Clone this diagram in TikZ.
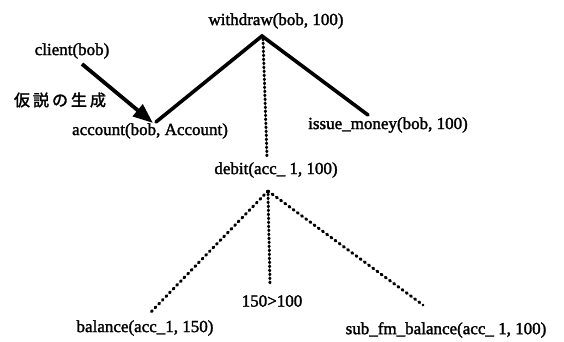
\documentclass[tikz,border=0pt]{standalone}
\usepackage{fontspec}
\setmainfont[FakeBold=1.8]{Liberation Serif}
\newfontfamily\jpfont[FakeBold=2]{Noto Sans CJK JP}
\usetikzlibrary{arrows.meta}
\begin{document}
\begin{tikzpicture}[x=1pt,y=-1pt,
  lbl/.style={inner sep=0pt,font=\fontsize{17}{19}\selectfont},
  solidline/.style={line width=3.6pt,line cap=round,line join=miter},
  dotline/.style={line width=3pt,line cap=round,dash pattern=on 1.2pt off 4pt},
  vdotline/.style={line width=3pt,line cap=round,dash pattern=on 0.8pt off 3.2pt}]
\useasboundingbox (0,0) rectangle (564,342);
\node[lbl] (w) at (276,21) {withdraw(bob, 100)};
\node[lbl] (c) at (72,51) {client(bob)};
\node[lbl,font=\jpfont\fontsize{16}{18}\selectfont] (h) at (60,100) {仮\kern3pt 説\kern3pt の\kern3pt 生\kern3pt 成};
\node[lbl] (a) at (150,131) {account(bob, Account)};
\node[lbl] (i) at (388,125) {issue\_money(bob, 100)};
\node[lbl] (d) at (276,170) {debit(acc\_ 1, 100)};
\node[lbl] (b) at (145,328) {balance(acc\_1, 150)};
\node[lbl] (g) at (272,301) {150>100};
\node[lbl] (s) at (446,330) {sub\_fm\_balance(acc\_ 1, 100)};
\coordinate (wt) at (262,36);
\coordinate (at) at (156,122);
\coordinate (it) at (368,115);
\coordinate (dt) at (268,191);
\coordinate (ct) at (82,64);
\coordinate (wb) at (267,157);
\coordinate (bt) at (150,313);
\coordinate (gt) at (270,283);
\coordinate (st) at (423,305);
\draw[solidline] (at) -- (wt) -- (it);
\draw[line width=3.8pt,-{Triangle[length=20pt,width=15pt]}] (ct) -- (153,123);
\draw[vdotline] (wt) ++(1,3) -- (wb);
\draw[dotline] (dt) -- (bt);
\draw[vdotline] (dt) ++(0,3) -- (gt);
\draw[dotline] (dt) -- (st);
\end{tikzpicture}
\end{document}
